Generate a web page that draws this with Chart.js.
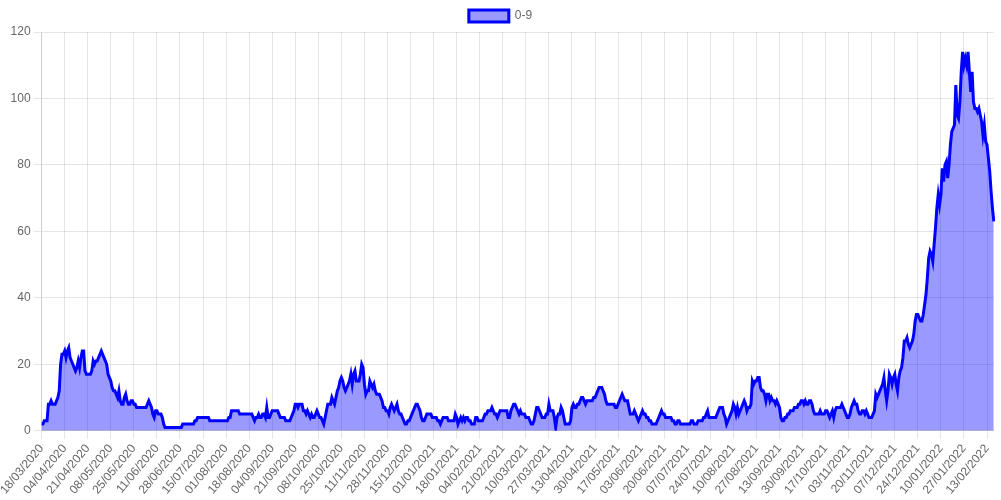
<!DOCTYPE html>
<html>
<head>
<meta charset="utf-8">
<script src="https://cdn.jsdelivr.net/npm/chart.js@4.4.0/dist/chart.umd.min.js"></script>
<style>
    html, body { margin: 0; padding: 0; background: #fff; }
    #wrap { width: 1001px; height: 500px; }
</style>
</head>
<body>
<div id="wrap"><canvas id="ageChart"></canvas></div>
<script>
// Daily cases, age group 0-9, starting 18/03/2020 (one value per day)
const startDate = [2020, 3, 18];
const seriesLabel = '0-9';

const cases09 = [
    2, 2, 3, 3, 3, 8, 8, 9, 8, 8, 8, 9, 10, 12, 20, 23, 23,
    24, 22, 24, 25, 22, 21, 20, 19, 18, 19, 21, 19, 22, 24, 24, 18, 17,
    17, 17, 17, 18, 21, 20, 21, 21, 22, 23, 24, 23, 22, 21, 20, 17, 16,
    15, 13, 12, 12, 11, 10, 12, 9, 8, 8, 10, 11, 9, 8, 8, 9, 9,
    8, 8, 7, 7, 7, 7, 7, 7, 7, 7, 8, 9, 8, 7, 5, 4, 6,
    6, 5, 5, 5, 4, 2, 1, 1, 1, 1, 1, 1, 1, 1, 1, 1, 1,
    1, 1, 2, 2, 2, 2, 2, 2, 2, 2, 2, 3, 3, 4, 4, 4, 4,
    4, 4, 4, 4, 4, 3, 3, 3, 3, 3, 3, 3, 3, 3, 3, 3, 3,
    3, 3, 4, 4, 6, 6, 6, 6, 6, 6, 5, 5, 5, 5, 5, 5, 5,
    5, 5, 5, 4, 3, 4, 4, 5, 4, 4, 5, 5, 4, 7, 4, 4, 5,
    6, 6, 6, 6, 6, 5, 4, 4, 4, 4, 3, 3, 3, 3, 4, 5, 6,
    8, 8, 7, 8, 8, 8, 6, 6, 5, 6, 5, 4, 5, 4, 4, 5, 6,
    5, 4, 4, 3, 2, 4, 6, 8, 8, 8, 10, 9, 8, 10, 12, 13, 15,
    16, 15, 13, 12, 13, 14, 15, 17, 14, 17, 18, 15, 15, 15, 17, 20, 19,
    14, 11, 12, 12, 15, 14, 13, 14, 12, 11, 11, 11, 10, 9, 7, 7, 6,
    6, 5, 7, 8, 7, 6, 7, 8, 6, 5, 5, 4, 3, 2, 2, 3, 3,
    4, 5, 6, 7, 8, 8, 7, 6, 4, 3, 3, 4, 5, 5, 5, 5, 4,
    4, 4, 4, 3, 3, 2, 3, 4, 4, 4, 4, 3, 3, 3, 3, 3, 5,
    4, 2, 3, 4, 3, 4, 3, 4, 4, 3, 3, 2, 2, 2, 4, 4, 3,
    3, 3, 3, 4, 5, 5, 6, 6, 6, 7, 6, 5, 5, 4, 5, 6, 6,
    6, 6, 6, 6, 4, 4, 6, 7, 8, 8, 7, 6, 5, 6, 5, 5, 5,
    4, 4, 4, 3, 2, 2, 3, 5, 7, 7, 6, 5, 4, 4, 4, 5, 5,
    8, 6, 6, 6, 4, 1, 4, 5, 5, 7, 6, 4, 2, 2, 2, 2, 3,
    7, 8, 7, 7, 8, 8, 9, 10, 10, 9, 8, 9, 9, 9, 9, 9, 10,
    10, 11, 12, 13, 13, 13, 12, 11, 9, 8, 8, 8, 8, 8, 8, 7, 7,
    8, 9, 10, 11, 10, 9, 9, 9, 7, 5, 5, 5, 6, 5, 4, 3, 4,
    5, 6, 5, 5, 4, 4, 3, 3, 2, 2, 2, 2, 3, 4, 5, 6, 5,
    5, 4, 4, 4, 4, 4, 3, 3, 2, 2, 3, 3, 2, 2, 2, 2, 2,
    2, 2, 2, 3, 3, 2, 2, 2, 3, 3, 3, 3, 4, 4, 5, 6, 4,
    4, 4, 4, 4, 4, 5, 6, 7, 7, 7, 5, 4, 2, 3, 4, 5, 6,
    8, 7, 5, 7, 5, 6, 7, 8, 9, 8, 6, 7, 7, 8, 15, 14, 15,
    15, 16, 16, 13, 12, 12, 11, 9, 11, 11, 9, 10, 9, 9, 8, 9, 8,
    7, 4, 3, 3, 4, 4, 5, 5, 6, 6, 6, 7, 7, 7, 8, 8, 9,
    9, 8, 9, 8, 8, 9, 9, 8, 6, 5, 5, 5, 5, 6, 5, 5, 5,
    6, 6, 5, 4, 5, 6, 4, 6, 7, 7, 7, 7, 8, 7, 6, 5, 4,
    4, 5, 7, 8, 9, 8, 8, 6, 5, 5, 6, 6, 5, 6, 5, 4, 4,
    4, 5, 6, 11, 10, 11, 12, 13, 14, 16, 12, 9, 12, 17, 16, 14, 16,
    17, 14, 12, 16, 18, 19, 22, 27, 27, 28, 26, 25, 26, 27, 29, 33, 35,
    35, 34, 33, 33, 35, 38, 41, 46, 52, 54, 53, 51, 56, 61, 67, 71, 68,
    71, 79, 75, 80, 81, 76, 80, 86, 90, 91, 92, 104, 95, 94, 99, 108, 114,
    110, 112, 110, 114, 108, 102, 108, 99, 97, 97, 96, 97, 95, 93, 89, 92, 87,
    86, 82, 78, 72, 67, 63
];

// y-axis range shown in the reference
const yMin = 0;
const yMax = 120;
const yStep = 20;

// Build dd/mm/yyyy category labels, one per day
function buildDayLabels(count) {
    const labels = [];
    const d0 = Date.UTC(startDate[0], startDate[1] - 1, startDate[2]);
    for (let i = 0; i < count; i++) {
        const d = new Date(d0 + i * 86400000);
        const dd = String(d.getUTCDate()).padStart(2, '0');
        const mm = String(d.getUTCMonth() + 1).padStart(2, '0');
        labels.push(`${dd}/${mm}/${d.getUTCFullYear()}`);
    }
    return labels;
}

const dayLabels = buildDayLabels(cases09.length);

const ctx = document.getElementById('ageChart').getContext('2d');
new Chart(ctx, {
    type: 'line',
    data: {
        labels: dayLabels,
        datasets: [{
            label: seriesLabel,
            data: cases09,
            borderColor: '#0000ff',
            backgroundColor: 'rgba(0,0,255,0.4)',
            borderWidth: 3,
            pointRadius: 0,
            pointHoverRadius: 0,
            tension: 0,
            fill: true
        }]
    },
    options: {
        responsive: true,
        maintainAspectRatio: false,
        animation: false,
        plugins: {
            legend: { position: 'top' },
            tooltip: { enabled: false }
        },
        scales: {
            x: {
                ticks: { maxRotation: 50 }
            },
            y: {
                min: yMin,
                max: yMax,
                ticks: { stepSize: yStep }
            }
        }
    }
});
</script>
</body>
</html>
